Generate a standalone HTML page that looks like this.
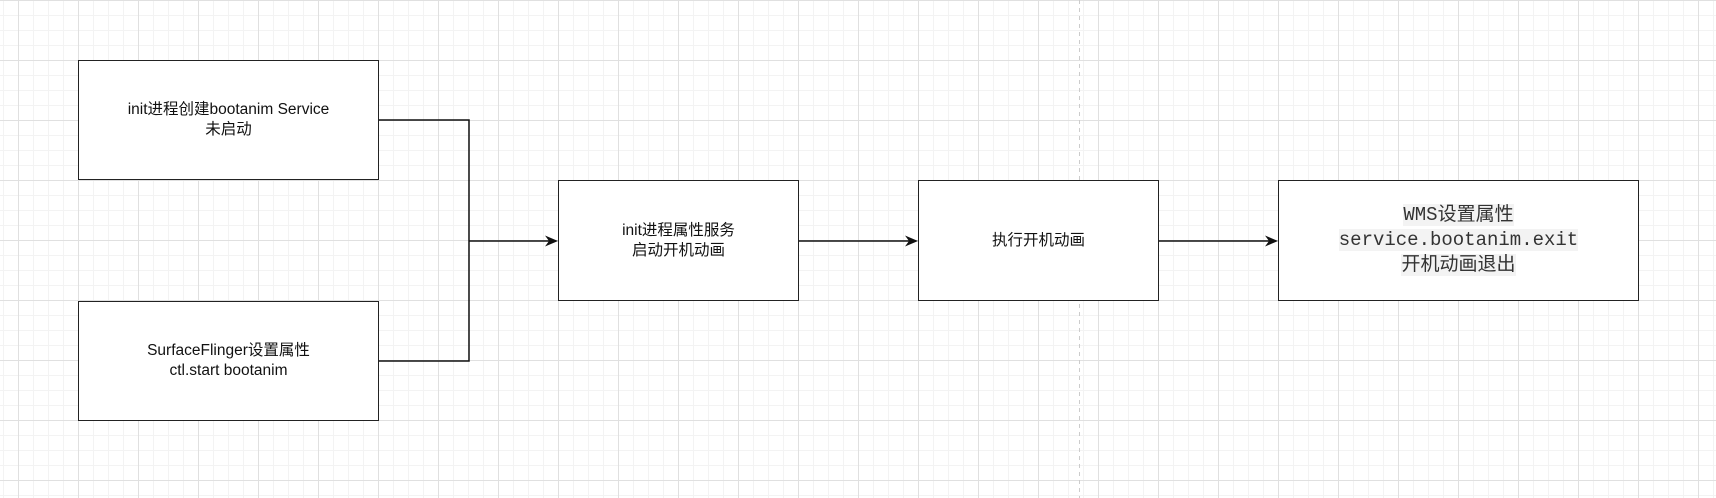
<!DOCTYPE html>
<html><head><meta charset="utf-8"><style>
html,body{margin:0;padding:0}
body{width:1716px;height:498px;position:relative;overflow:hidden;background:#fff;
background-image:
linear-gradient(to right,#e0e0e0 1px,transparent 1px),
linear-gradient(to bottom,#e0e0e0 1px,transparent 1px),
linear-gradient(to right,#f3f3f3 1px,transparent 1px),
linear-gradient(to bottom,#f3f3f3 1px,transparent 1px);
background-size:60px 60px,60px 60px,15px 15px,15px 15px;
background-position:18px 0px,18px 0px,3px 0px,3px 0px;
font-family:"Liberation Sans","Noto Sans CJK SC",sans-serif;}
.b{position:absolute;border:1.5px solid #222;background:#fff;box-sizing:border-box;display:flex;align-items:center;justify-content:center;text-align:center;font-size:15.5px;line-height:20px;color:#111}
.m{font-family:"Liberation Mono","Noto Sans CJK SC",monospace;font-size:19px;line-height:25px;color:#333}
.m span{background:#f3f3f3}
</style></head><body>
<svg width="1716" height="498" style="position:absolute;left:0;top:0">
<line x1="1079.5" y1="0" x2="1079.5" y2="498" stroke="#ccc" stroke-dasharray="4 4"/>
<polyline points="379,120 469,120 469,361 379,361" fill="none" stroke="#111" stroke-width="1.5"/>
<line x1="469" y1="241" x2="550" y2="241" stroke="#111" stroke-width="1.5"/>
<polygon points="558,241 545,235.5 549,241 545,246.5" fill="#111"/>
<line x1="799" y1="241" x2="910" y2="241" stroke="#111" stroke-width="1.5"/>
<polygon points="918,241 905,235.5 909,241 905,246.5" fill="#111"/>
<line x1="1158" y1="241" x2="1270" y2="241" stroke="#111" stroke-width="1.5"/>
<polygon points="1278,241 1265,235.5 1269,241 1265,246.5" fill="#111"/>
</svg>
<div class="b" style="left:78px;top:60px;width:301px;height:120px">init进程创建bootanim Service<br>未启动</div>
<div class="b" style="left:78px;top:301px;width:301px;height:120px">SurfaceFlinger设置属性<br>ctl.start bootanim</div>
<div class="b" style="left:558px;top:180px;width:241px;height:121px">init进程属性服务<br>启动开机动画</div>
<div class="b" style="left:918px;top:180px;width:241px;height:121px">执行开机动画</div>
<div class="b m" style="left:1278px;top:180px;width:361px;height:121px"><div><span>WMS设置属性</span><br><span>service.bootanim.exit</span><br><span>开机动画退出</span></div></div>
</body></html>
